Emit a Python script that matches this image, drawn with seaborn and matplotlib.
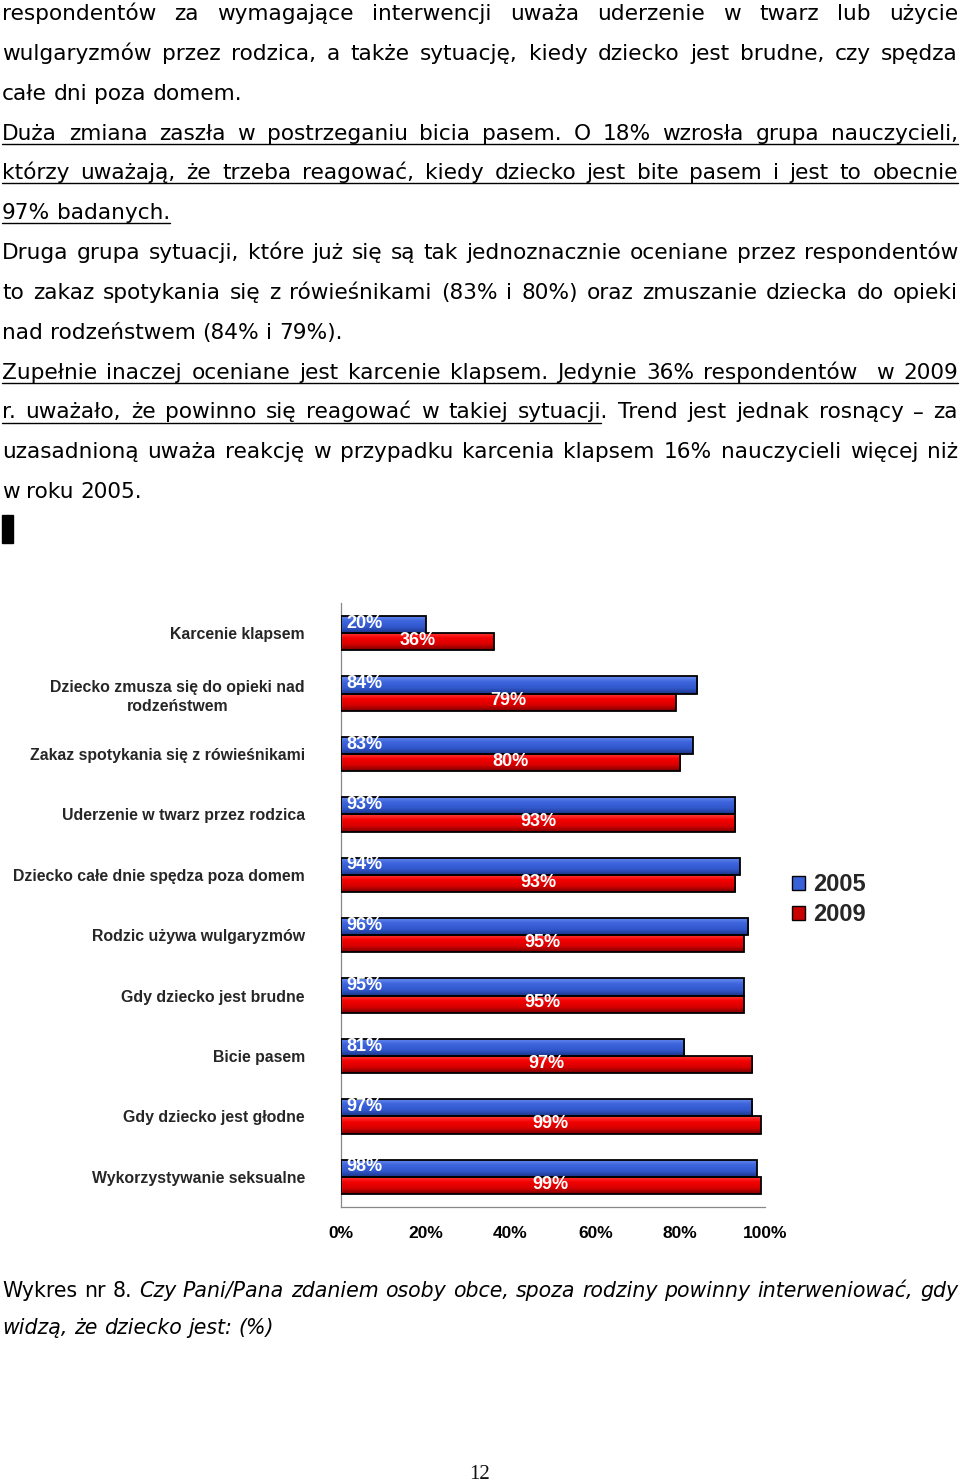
import numpy as np
import pandas as pd
import matplotlib
matplotlib.use("Agg")
import matplotlib.pyplot as plt
import seaborn as sns
from matplotlib.colors import LinearSegmentedColormap
from matplotlib.lines import Line2D
from matplotlib.patches import Patch, Rectangle

# ---------------- data ----------------
categories = [
    "Karcenie klapsem",
    "Dziecko zmusza się do opieki nad\nrodzeństwem",
    "Zakaz spotykania się z rówieśnikami",
    "Uderzenie w twarz przez rodzica",
    "Dziecko całe dnie spędza poza domem",
    "Rodzic używa wulgaryzmów",
    "Gdy dziecko jest brudne",
    "Bicie pasem",
    "Gdy dziecko jest głodne",
    "Wykorzystywanie seksualne",
]
values_2005 = [20, 84, 83, 93, 94, 96, 95, 81, 97, 98]
values_2009 = [36, 79, 80, 93, 93, 95, 95, 97, 99, 99]
years = ["2005", "2009"]
x_ticks = [0, 20, 40, 60, 80, 100]

paragraph_lines = [
    ("respondentów za wymagające interwencji uważa uderzenie w twarz lub użycie", True, None),
    ("wulgaryzmów przez rodzica, a także sytuację, kiedy dziecko jest brudne, czy spędza", True, None),
    ("całe dni poza domem.", False, None),
    ("Duża zmiana zaszła w postrzeganiu bicia pasem. O 18% wzrosła grupa nauczycieli,", True, "all"),
    ("którzy uważają, że trzeba reagować, kiedy dziecko jest bite pasem i jest to obecnie", True, "all"),
    ("97% badanych.", False, "all"),
    ("Druga grupa sytuacji, które już się są tak jednoznacznie oceniane przez respondentów", True, None),
    ("to zakaz spotykania się z rówieśnikami (83% i 80%) oraz zmuszanie dziecka do opieki", True, None),
    ("nad rodzeństwem (84% i 79%).", False, None),
    ("Zupełnie inaczej oceniane jest karcenie klapsem. Jedynie 36% respondentów  w 2009", True, "all"),
    ("r. uważało, że powinno się reagować w takiej sytuacji. Trend jest jednak rosnący – za", True, ("sytuacji.", "sytuacji")),
    ("uzasadnioną uważa reakcję w przypadku karcenia klapsem 16% nauczycieli więcej niż", True, None),
    ("w roku 2005.", False, None),
]
caption_line1_regular = "Wykres nr 8."
caption_line1_italic = "Czy Pani/Pana zdaniem osoby obce, spoza rodziny powinny interweniować, gdy"
caption_line2_italic = "widzą, że dziecko jest: (%)"
page_number = "12"

# ---------------- figure ----------------
W, H = 960, 1482
fig = plt.figure(figsize=(W / 100, H / 100), dpi=100)
sns.set_style("white")
plt.rcParams["font.family"] = ["DejaVu Sans"]


def fx(px):
    return px / W


def fy(py):
    return 1 - py / H


renderer = fig.canvas.get_renderer()
X_LEFT, X_RIGHT = 2, 958


def measure(s, **kw):
    if s == "":
        return 0.0
    t = fig.text(0, 0, s, **kw)
    w = t.get_window_extent(renderer).width
    t.remove()
    return w


def draw_line(tokens, y_base, justify, underline=None, fs=15.6):
    """tokens: list of (word, style)"""
    texts, widths = [], []
    for word, style in tokens:
        kw = dict(fontsize=fs, family="DejaVu Sans", style=style)
        t = fig.text(0, fy(y_base), word, va="baseline", ha="left", color="black", **kw)
        texts.append(t)
        widths.append(measure(word, **kw))
    space = measure("a a", fontsize=fs, family="DejaVu Sans") - measure("aa", fontsize=fs, family="DejaVu Sans")
    n = len(tokens)
    if justify and n > 1:
        gap = (X_RIGHT - X_LEFT - sum(widths)) / (n - 1)
    else:
        gap = space
    x = X_LEFT
    xs = []
    for t, w in zip(texts, widths):
        t.set_x(fx(x))
        xs.append(x)
        x += w + gap
    if underline is not None:
        if underline == "all":
            x_end = xs[-1] + widths[-1]
        else:
            target, prefix = underline
            idx = [w for w, _ in tokens].index(target)
            x_end = xs[idx] + measure(prefix, fontsize=fs, family="DejaVu Sans")
        fig.add_artist(Line2D([fx(X_LEFT), fx(x_end)], [fy(y_base + 4), fy(y_base + 4)],
                              transform=fig.transFigure, color="black", lw=1.0))


for k, (line, just, ul) in enumerate(paragraph_lines):
    toks = [(w, "normal") for w in line.split(" ")]
    draw_line(toks, 20 + 39.85 * k, just, ul)

# small black marker
fig.add_artist(Rectangle((fx(2), fy(543)), fx(13) - fx(2), fy(515) - fy(543),
                         transform=fig.transFigure, color="black"))

# caption
cap_tokens = [(w, "normal") for w in caption_line1_regular.split(" ")] + \
             [(w, "italic") for w in caption_line1_italic.split(" ")]
draw_line(cap_tokens, 1297, True, fs=14.8)
draw_line([(w, "italic") for w in caption_line2_italic.split(" ")], 1334, False, fs=14.8)

fig.text(0.5, fy(1479), page_number, ha="center", va="baseline",
         fontsize=15, family="Liberation Serif", color="#111111")

# ---------------- chart ----------------
df = pd.DataFrame({
    "kategoria": categories * 2,
    "wartosc": values_2005 + values_2009,
    "rok": [years[0]] * len(categories) + [years[1]] * len(categories),
})

ax = fig.add_axes([fx(341), fy(1207), fx(765) - fx(341), fy(603) - fy(1207)])
blue_main, red_main = "#3a62d8", "#e00000"
sns.barplot(data=df, y="kategoria", x="wartosc", hue="rok", orient="h",
            palette=[blue_main, red_main], width=0.57, ax=ax, legend=False,
            edgecolor="black", linewidth=1.3, saturation=1, err_kws={"linewidth": 0})

xlim = (0, 100)
ylim = ax.get_ylim()

grad_blue = LinearSegmentedColormap.from_list("gb", ["#6a8cf0", "#3d64dc", "#3158cc", "#1c3488"])
grad_red = LinearSegmentedColormap.from_list("gr", ["#ff4040", "#f40000", "#d80000", "#7c0000"])
grad = np.linspace(0, 1, 64).reshape(-1, 1)

label_kw = dict(color="white", fontsize=13, fontweight="bold", family="Liberation Sans")
for i, patch in enumerate(ax.patches):
    x0, y0 = patch.get_x(), patch.get_y()
    w, h = patch.get_width(), patch.get_height()
    if w <= 0:
        continue
    is_blue = np.allclose(patch.get_facecolor()[:3], matplotlib.colors.to_rgb(blue_main), atol=0.05)
    cmap = grad_blue if is_blue else grad_red
    im = ax.imshow(grad, cmap=cmap, extent=(x0, x0 + w, y0 + h, y0), origin="upper",
                   aspect="auto", zorder=2.5, interpolation="bilinear")
    im.set_clip_path(patch)
    patch.set_facecolor("none")
    patch.set_zorder(3)
    yc = y0 + h / 2
    if is_blue:
        ax.annotate(f"{w:.0f}%", (x0, yc), xytext=(4, 1), textcoords="offset points",
                    ha="left", va="center", zorder=4, **label_kw)
    else:
        ax.annotate(f"{w:.0f}%", (x0 + w / 2, yc), xytext=(0, 1), textcoords="offset points",
                    ha="center", va="center", zorder=4, **label_kw)

ax.set_xlim(*xlim)
ax.set_ylim(ylim)
ax.set_xlabel("")
ax.set_ylabel("")
ax.set_xticks(x_ticks)
ax.set_xticklabels([f"{v}%" for v in x_ticks], fontsize=12.5, fontweight="bold",
                   family="Liberation Sans")
for lbl in ax.get_yticklabels():
    lbl.set_fontsize(11.4)
    lbl.set_fontweight("bold")
    lbl.set_family("Liberation Sans")
    lbl.set_multialignment("center")
    lbl.set_linespacing(1.35)
ax.tick_params(axis="y", which="major", length=0, pad=26)
ax.set_yticks(np.arange(-0.5, len(categories), 1.0), minor=True)
ax.tick_params(axis="y", which="minor", length=4, color="#888888", width=0.8)
ax.tick_params(axis="x", which="major", length=4, color="#888888", width=0.8, pad=10,
               labelcolor="black")
for side in ["top", "right"]:
    ax.spines[side].set_visible(False)
for side in ["left", "bottom"]:
    ax.spines[side].set_color("#888888")
    ax.spines[side].set_linewidth(0.9)
ax.set_facecolor("none")

handles = [Patch(facecolor=blue_main, edgecolor="black", linewidth=1.0, label=years[0]),
           Patch(facecolor="#c80000", edgecolor="black", linewidth=1.0, label=years[1])]
fig.legend(handles=handles, loc="upper left", bbox_to_anchor=(fx(792), fy(873)),
           frameon=False, prop={"family": "Liberation Sans", "weight": "bold", "size": 17},
           handlelength=0.55, handleheight=0.55, handletextpad=0.35, labelspacing=0.3,
           borderpad=0, borderaxespad=0)

fig.savefig("out.png", dpi=100)
